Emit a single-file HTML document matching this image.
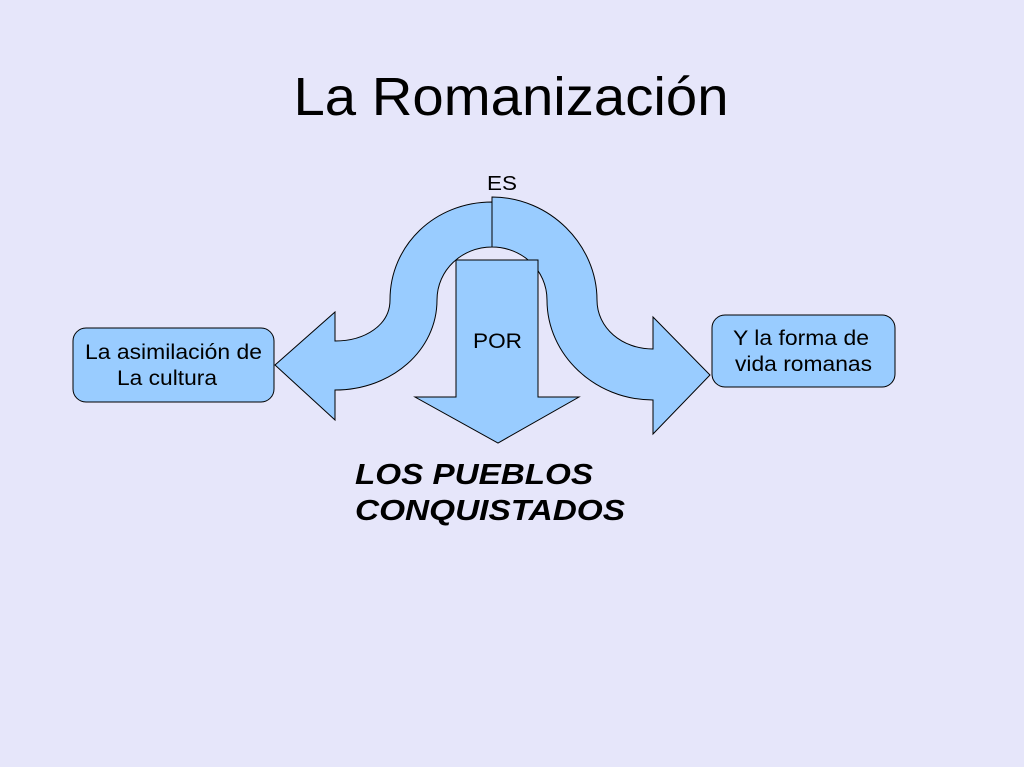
<!DOCTYPE html>
<html><head><meta charset="utf-8"><style>
html,body{margin:0;padding:0;background:#e6e6fa;}
svg{display:block;}
text{font-family:"Liberation Sans",sans-serif;fill:#000;}
</style></head><body>
<svg width="1024" height="767" viewBox="0 0 1024 767" xmlns="http://www.w3.org/2000/svg">
<rect width="1024" height="767" fill="#e6e6fa"/>
<text x="511" y="115" font-size="54" text-anchor="middle" textLength="435" lengthAdjust="spacingAndGlyphs">La Romanización</text>
<text x="502" y="190" font-size="20" text-anchor="middle" textLength="30" lengthAdjust="spacingAndGlyphs">ES</text>

<rect x="73" y="328" width="201" height="74" rx="13" fill="#99ccff" stroke="#000" stroke-width="1"/>
<text x="85" y="359" font-size="21" textLength="177" lengthAdjust="spacingAndGlyphs">La asimilación de</text>
<text x="117" y="385" font-size="21" textLength="100" lengthAdjust="spacingAndGlyphs">La cultura</text>

<rect x="712" y="315" width="183" height="72" rx="13" fill="#99ccff" stroke="#000" stroke-width="1"/>
<text x="733" y="345" font-size="21" textLength="136" lengthAdjust="spacingAndGlyphs">Y la forma de</text>
<text x="735" y="371" font-size="21" textLength="137" lengthAdjust="spacingAndGlyphs">vida romanas</text>

<!-- left curved arrow -->
<path d="M275,365 L335,312 L335,341 C365,341 390,325 390,300 C390,245 435,202 492,202 L492,247 C462,247 437,270 437,300 C437,350 392,390 335,390 L335,420 Z" fill="#99ccff" stroke="#000" stroke-width="1"/>
<!-- right curved arrow -->
<path d="M492,197 C550,197 597,245 597,300 C597,328 622,349 653,349 L653,317 L710,375 L653,434 L653,400 C595,400 547,355 547,300 C547,270 522,247 492,247 Z" fill="#99ccff" stroke="#000" stroke-width="1"/>
<!-- down arrow -->
<path d="M456,260 L538,260 L538,397 L579,397 L498,443 L415,397 L456,397 Z" fill="#99ccff" stroke="#000" stroke-width="1"/>
<text x="473" y="348" font-size="21" textLength="49" lengthAdjust="spacingAndGlyphs">POR</text>

<text x="355" y="484" font-size="29" font-weight="bold" font-style="italic" textLength="238" lengthAdjust="spacingAndGlyphs">LOS PUEBLOS</text>
<text x="355" y="520" font-size="29" font-weight="bold" font-style="italic" textLength="270" lengthAdjust="spacingAndGlyphs">CONQUISTADOS</text>
</svg>
</body></html>
